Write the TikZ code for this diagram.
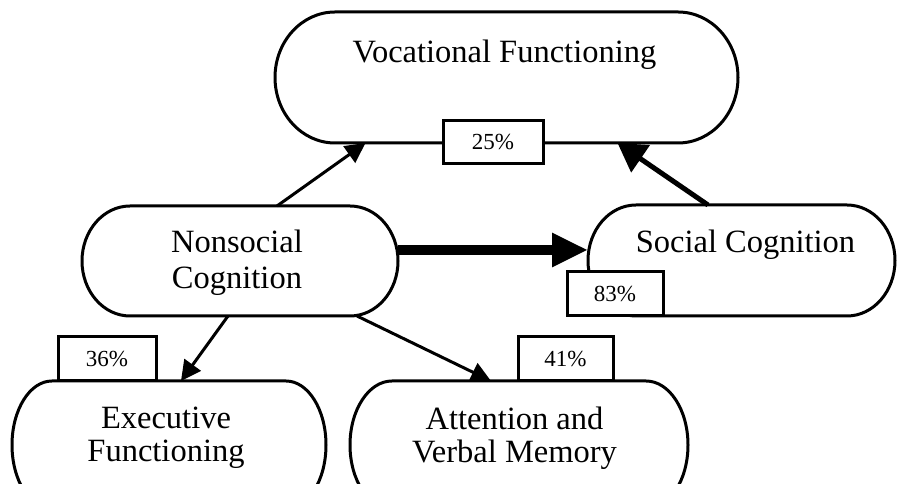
\documentclass[tikz,border=0pt]{standalone}
\usepackage{fontspec}
\setmainfont{Liberation Serif}
\usetikzlibrary{arrows.meta}
\tikzset{
  shapebox/.style={draw=none, inner sep=0pt, outer sep=0pt},
  outline/.style={line width=3pt, line join=round},
  lbl/.style={font=\fontsize{32.5}{36}\selectfont, align=center, inner sep=0pt},
  lbltwo/.style={font=\fontsize{32.5}{33}\selectfont, align=center, inner sep=0pt},
  pct/.style={draw, line width=3pt, fill=white, inner sep=0pt, outer sep=0pt, font=\fontsize{23}{26}\selectfont},
  conn/.style={line width=3pt, -{Triangle[length=20pt,width=20pt]}},
}
\newcommand\capsulebox[3]{%
  \draw[outline] ([xshift=#2pt]#1.north west) -- ([xshift=-#2pt]#1.north east)
    arc[start angle=90,end angle=0,x radius=#2pt,y radius=#3pt]
    -- ([yshift=#3pt]#1.south east)
    arc[start angle=0,end angle=-90,x radius=#2pt,y radius=#3pt]
    -- ([xshift=#2pt]#1.south west)
    arc[start angle=270,end angle=180,x radius=#2pt,y radius=#3pt]
    -- ([yshift=-#3pt]#1.north west)
    arc[start angle=180,end angle=90,x radius=#2pt,y radius=#3pt] -- cycle;}
\begin{document}
\begin{tikzpicture}[x=1pt,y=1pt]
\useasboundingbox (0,0) rectangle (898,484);
\begin{scope}
\clip (0,0) rectangle (898,484);
% shapes
\node[shapebox, minimum width=463pt, minimum height=131pt] (voc) at (506.5,406.5) {};
\node[shapebox, minimum width=316pt, minimum height=110pt] (ns) at (240,223) {};
\node[shapebox, minimum width=307pt, minimum height=111pt] (sc) at (741.5,223.5) {};
\node[shapebox, minimum width=314pt, minimum height=128pt] (ef) at (169,39) {};
\node[shapebox, minimum width=338pt, minimum height=128pt] (av) at (519,39) {};
\capsulebox{voc}{60}{65.5}
\capsulebox{ns}{48}{55}
\capsulebox{sc}{48}{55.5}
\capsulebox{ef}{40}{64}
\capsulebox{av}{42}{64}
% texts
\node[lbl, anchor=base] (vocT) at (504.5,421) {Vocational Functioning};
\node[lbl] (nsT) at (237,221) {Nonsocial\\Cognition};
\node[lbl, anchor=base] (scT) at (745.5,231) {Social Cognition};
\node[lbltwo] (efT) at (166,46) {Executive\\Functioning};
\node[lbltwo] (avT) at (514.5,46) {Attention and\\Verbal Memory};
% connectors
\draw[conn] ([xshift=37pt]ns.north) -- ([xshift=-141pt]voc.south);
\draw[line width=5pt, -{Triangle[length=28pt,width=32pt]}] ([xshift=-33.5pt]sc.north) -- ([xshift=111pt]voc.south);
\draw[line width=10pt, -{Triangle[length=36pt,width=32pt]}] ([yshift=11pt]ns.east) -- ([yshift=10.5pt]sc.west);
\draw[conn] ([xshift=-12pt]ns.south) -- ([xshift=12pt]ef.north);
\draw[conn] ([xshift=117pt]ns.south) -- ([xshift=-28pt]av.north);
% percentages
\node[pct, minimum width=100pt, minimum height=43pt] (p25) at (493,341.5) {25\%\hspace{16pt}};
\node[pct, minimum width=96pt, minimum height=44pt] (p83) at (615,190) {83\%\hspace{16pt}};
\node[pct, minimum width=98pt, minimum height=44pt] (p36) at (107,125) {36\%\hspace{16pt}};
\node[pct, minimum width=95pt, minimum height=44pt] (p41) at (565.5,125) {41\%\hspace{16pt}};
\end{scope}
\end{tikzpicture}
\end{document}
